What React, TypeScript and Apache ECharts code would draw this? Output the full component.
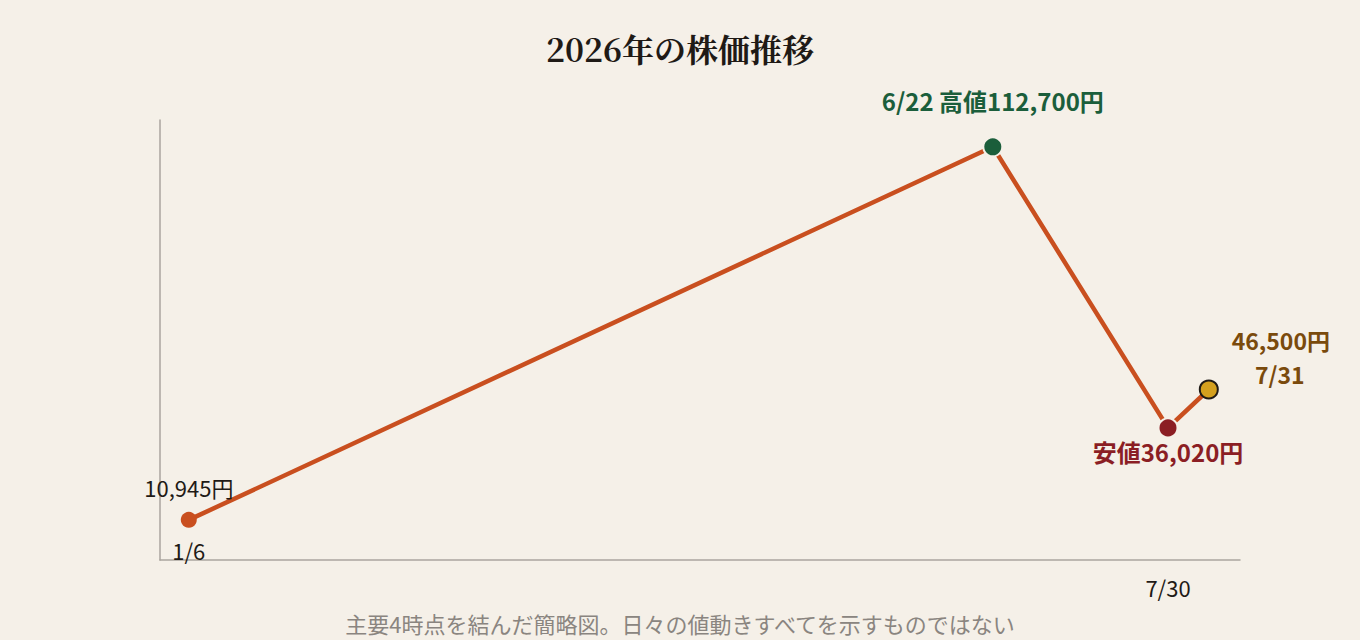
import { useEffect, useRef } from 'react'
import * as echarts from 'echarts'

// ---------- data ----------
const DATES = ['1/6', '6/22', '7/30', '7/31']
// horizontal position (approx. day of year; 7/31 pushed right for legibility)
const X_POS = [6, 173.5, 210, 218.5]
const PRICES = [10945, 112700, 36020, 46500]
const Y_MAX = 120000
const X_MAX = 225

// ---------- palette ----------
const BG = '#f5f0e8'
const LINE = '#c94f1f'
const HIGH = '#1b5e3b'
const LOW = '#8b1e24'
const LAST = '#d4a01e'
const LAST_TEXT = '#7a4a0c'
const INK = '#1f1a16'
const AXIS = '#aaa59f'
const NOTE = '#8a8580'
const SANS = '"Noto Sans CJK JP", "Noto Sans", sans-serif'
const SERIF = '"Noto Serif CJK JP", "Noto Serif JP", serif'

const yen = (v: number) => v.toLocaleString('en-US') + '円'

export default function App() {
  const ref = useRef<HTMLDivElement>(null)

  useEffect(() => {
    document.body.style.margin = '0'
    if (!ref.current) return
    const chart = echarts.init(ref.current, undefined, { renderer: 'svg' })

    const pts = X_POS.map((x, i) => [x, PRICES[i]])

    chart.setOption({
      animation: false,
      backgroundColor: BG,
      textStyle: { fontFamily: SANS },
      title: [
        {
          text: '2026年の株価推移',
          left: 'center',
          top: 27,
          textStyle: { fontFamily: SERIF, fontSize: 32, fontWeight: 'bold', color: INK },
        },
        {
          text: '主要4時点を結んだ簡略図。日々の値動きすべてを示すものではない',
          left: 'center',
          top: 607,
          textStyle: { fontFamily: SANS, fontSize: 22, fontWeight: 'normal', color: NOTE },
        },
      ],
      grid: { left: 160, right: 120, top: 120, bottom: 80 },
      xAxis: {
        type: 'value',
        min: 0,
        max: X_MAX,
        axisLine: { show: true, lineStyle: { color: AXIS, width: 1.5 } },
        axisTick: { show: false },
        splitLine: { show: false },
        axisLabel: {
          customValues: [X_POS[2]],
          formatter: () => DATES[2],
          color: INK,
          fontSize: 22,
          margin: 16,
          fontFamily: SANS,
        },
      },
      yAxis: {
        type: 'value',
        min: 0,
        max: Y_MAX,
        axisLine: { show: true, lineStyle: { color: AXIS, width: 1.5 } },
        axisTick: { show: false },
        axisLabel: { show: false },
        splitLine: { show: false },
      },
      series: [
        {
          type: 'line',
          data: [
            {
              value: pts[0],
              symbolSize: 16,
              itemStyle: { color: LINE, borderWidth: 0 },
              label: {
                show: true,
                position: 'top',
                distance: 14,
                formatter: yen(PRICES[0]),
                color: INK,
                fontSize: 22,
              },
            },
            {
              value: pts[1],
              symbolSize: 19,
              itemStyle: { color: HIGH, borderColor: BG, borderWidth: 2 },
              label: {
                show: true,
                position: 'top',
                distance: 24,
                formatter: `${DATES[1]} 高値${yen(PRICES[1])}`,
                color: HIGH,
                fontSize: 24,
                fontWeight: 'bold',
              },
            },
            {
              value: pts[2],
              symbolSize: 19,
              itemStyle: { color: LOW, borderColor: BG, borderWidth: 2 },
              label: {
                show: true,
                position: 'bottom',
                distance: 1,
                formatter: `安値${yen(PRICES[2])}`,
                color: LOW,
                fontSize: 24,
                fontWeight: 'bold',
              },
            },
            {
              value: pts[3],
              symbolSize: 18,
              itemStyle: { color: LAST, borderColor: INK, borderWidth: 2 },
              label: {
                show: true,
                position: 'right',
                offset: [57, -50],
                align: 'center',
                formatter: yen(PRICES[3]),
                color: LAST_TEXT,
                fontSize: 23,
                fontWeight: 'bold',
              },
            },
          ],
          symbol: 'circle',
          lineStyle: { color: LINE, width: 4.5 },
          z: 3,
        },
        {
          // date labels that sit next to their points
          type: 'scatter',
          symbolSize: 0,
          silent: true,
          itemStyle: { opacity: 1 },
          data: [
            {
              value: pts[0],
              label: {
                show: true,
                position: 'bottom',
                distance: 19,
                formatter: DATES[0],
                color: INK,
                fontSize: 22,
              },
            },
            {
              value: pts[3],
              label: {
                show: true,
                position: 'right',
                offset: [66, -16],
                align: 'center',
                formatter: DATES[3],
                color: LAST_TEXT,
                fontSize: 23,
                fontWeight: 'bold',
              },
            },
          ],
        },
      ],
    })

    return () => chart.dispose()
  }, [])

  return <div ref={ref} style={{ width: 1360, height: 640 }} />
}
